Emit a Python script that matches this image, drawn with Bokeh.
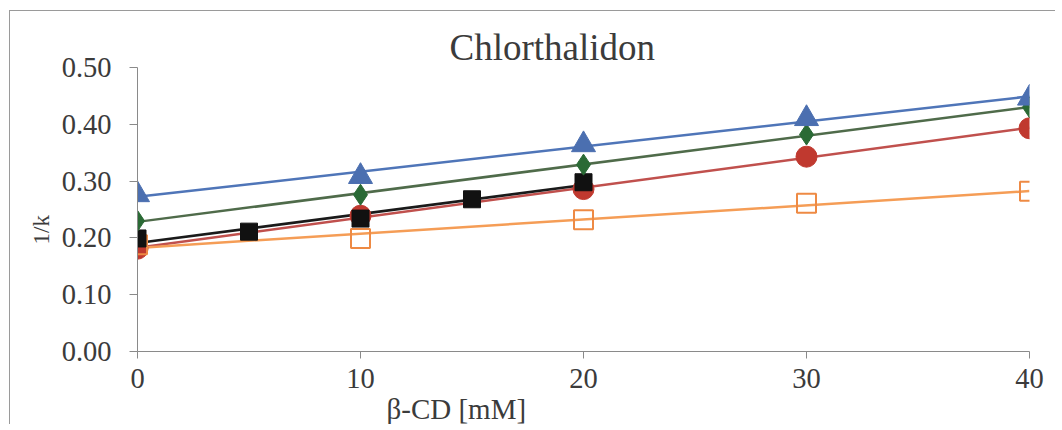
import numpy as np
from bokeh.plotting import figure
from bokeh.models import FixedTicker, NumeralTickFormatter, Title, Range1d
from bokeh.embed import file_html
from bokeh.resources import INLINE

# data
x_red = [0, 10, 20, 30, 40]
y_red = [0.181, 0.239, 0.286, 0.343, 0.393]

x_orange = [0, 10, 20, 30, 40]
y_orange = [0.188, 0.199, 0.232, 0.261, 0.282]

x_black = [0, 5, 10, 15, 20]
y_black = [0.199, 0.211, 0.234, 0.268, 0.298]

x_green = [0, 10, 20, 30, 40]
y_green = [0.230, 0.276, 0.329, 0.382, 0.430]

x_blue = [0, 10, 20, 30, 40]
y_blue = [0.276, 0.308, 0.364, 0.410, 0.446]

x_ticks = [0, 10, 20, 30, 40]
y_ticks = [0.0, 0.1, 0.2, 0.3, 0.4, 0.5]

title_text = "Chlorthalidon"
x_title = "β-CD [mM]"
y_title = "1/k"

FONT = "Liberation Serif"
TXT = "#3b3b3b"

p = figure(width=1046, height=414, output_backend="svg", toolbar_location=None,
           x_range=Range1d(0, 40), y_range=Range1d(0, 0.5),
           min_border_left=127, min_border_right=27, min_border_top=56, min_border_bottom=74)
p.margin = (10, 0, 0, 9)
p.outline_line_color = None
p.xgrid.visible = False
p.ygrid.visible = False
p.background_fill_color = "white"
p.border_fill_color = "white"
p.styles = {"border-top": "1px solid #9a9a9a", "border-left": "1px solid #9a9a9a", "box-sizing": "border-box"}

for ax in (p.xaxis[0], p.yaxis[0]):
    ax.axis_line_color = "#8a8a8a"
    ax.major_tick_line_color = "#8a8a8a"
    ax.minor_tick_line_color = None
    ax.major_tick_in = 0
    ax.major_label_text_font = FONT
    ax.major_label_text_font_size = "28.5px"
    ax.major_label_text_color = TXT
    ax.major_label_text_font_style = "normal"

p.xaxis.ticker = FixedTicker(ticks=x_ticks)
p.yaxis.ticker = FixedTicker(ticks=y_ticks)
p.yaxis.formatter = NumeralTickFormatter(format="0.00")
p.xaxis.major_tick_out = 7
p.yaxis.major_tick_out = 8
p.xaxis.major_label_standoff = 10
p.yaxis.major_label_standoff = 18


def trend(xs, ys, color, width=2.5):
    k, b = np.polyfit(xs, ys, 1)
    xx = [min(xs), max(xs)]
    yy = [k * v + b for v in xx]
    p.line(xx, yy, line_color=color, line_width=width)


trend(x_red, y_red, "#c0504d")
trend(x_orange, y_orange, "#f59d56")
trend(x_black, y_black, "#1a1a1a")
trend(x_green, y_green, "#4f6b4a")
trend(x_blue, y_blue, "#4f75b8")

p.scatter(x_red, y_red, marker="circle", size=21, fill_color="#c0392f", line_color="#c0392f")
p.scatter(x_orange, y_orange, marker="square", size=19, fill_color=None, line_color="#ee8a44", line_width=2)
p.scatter(x_black, y_black, marker="square", size=17, fill_color="#111111", line_color="#111111")
p.scatter(x_green, y_green, marker="diamond", size=21, fill_color="#2a6a35", line_color="#2a6a35")
p.scatter(x_blue, y_blue, marker="triangle", size=24, fill_color="#4b6fb0", line_color="#4b6fb0")

p.add_layout(Title(text=title_text, align="left", offset=312, standoff=0,
                   text_font=FONT, text_font_size="37px", text_color=TXT,
                   text_font_style="normal"), "above")
p.add_layout(Title(text=x_title, align="left", offset=249, standoff=0,
                   text_font=FONT, text_font_size="29px", text_color=TXT,
                   text_font_style="normal"), "below")
p.add_layout(Title(text=y_title, align="left", offset=107, standoff=10,
                   text_font=FONT, text_font_size="23px", text_color=TXT,
                   text_font_style="normal"), "left")

open("out.html", "w").write(file_html(p, INLINE))
